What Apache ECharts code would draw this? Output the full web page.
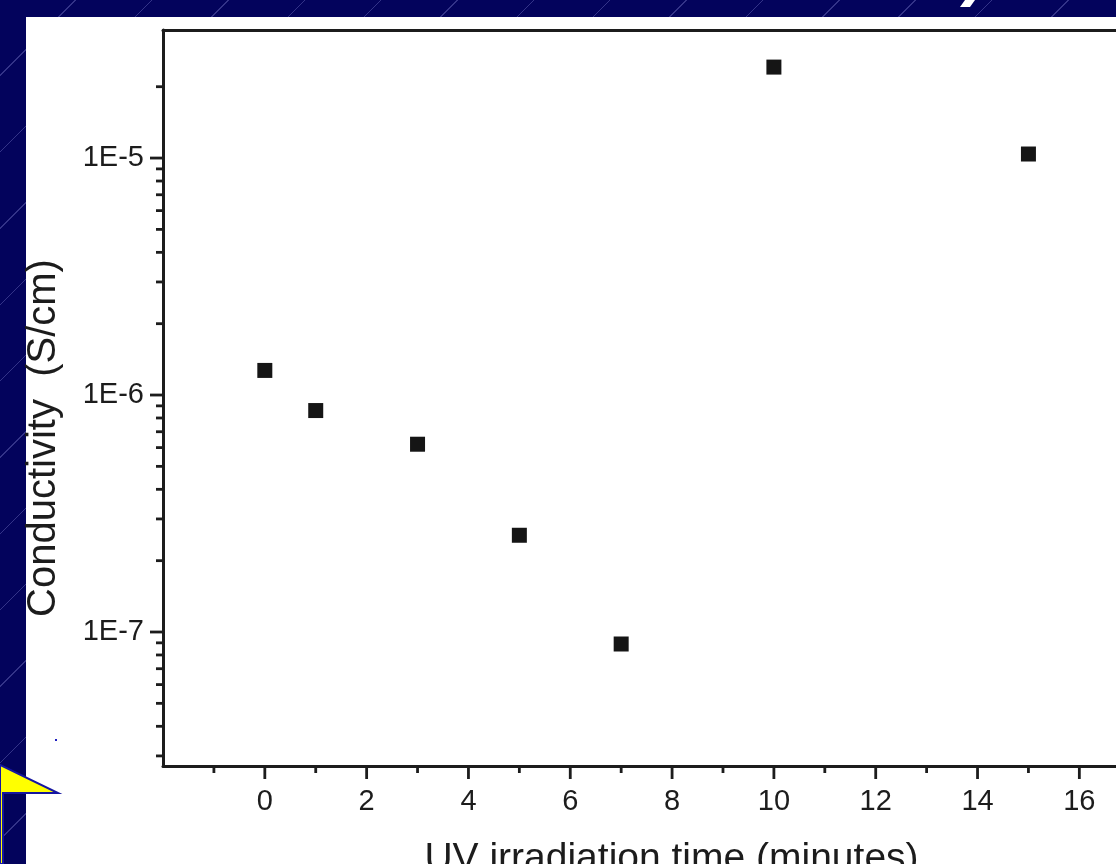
<!DOCTYPE html>
<html>
<head>
<meta charset="utf-8">
<title>Conductivity vs UV irradiation time</title>
<script src="https://cdn.jsdelivr.net/npm/echarts@6/dist/echarts.min.js"></script>
<style>
html, body { margin: 0; padding: 0; width: 1116px; height: 864px; overflow: hidden; }
#main {
    width: 1116px;
    height: 864px;
    background-color: #03035c;
    background-image: repeating-linear-gradient(135deg, transparent 0, transparent 53px, rgba(110,110,190,0.45) 53px, rgba(110,110,190,0.45) 54px);
}
</style>
</head>
<body>
<div id="main"></div>
<script>
// data
var uvTime = [0, 1, 3, 5, 7, 10, 15];
var conductivity = [1.27e-6, 8.6e-7, 6.2e-7, 2.56e-7, 8.9e-8, 2.42e-5, 1.04e-5];

// axis ranges and ticks
var X_MIN = -2, X_MAX = 16.72;
var Y_MIN = 2.72e-8, Y_MAX = 3.47e-5;
var xMajorTicks = [0, 2, 4, 6, 8, 10, 12, 14, 16];
var xMinorTicks = [-1, 1, 3, 5, 7, 9, 11, 13, 15];
var yMajorTicks = [1e-7, 1e-6, 1e-5];
var yMinorTicks = [3e-8, 4e-8, 5e-8, 6e-8, 7e-8, 8e-8, 9e-8,
                   2e-7, 3e-7, 4e-7, 5e-7, 6e-7, 7e-7, 8e-7, 9e-7,
                   2e-6, 3e-6, 4e-6, 5e-6, 6e-6, 7e-6, 8e-6, 9e-6,
                   2e-5];

var INK = '#1c1c1c';
var FONT = 'Liberation Sans, Arial, sans-serif';

function tickSeries(values, dir, len) {
    return {
        type: 'custom',
        silent: true,
        clip: false,
        z: 3,
        data: values.map(function (v) { return dir === 'y' ? [X_MIN, v] : [v, Y_MIN]; }),
        renderItem: function (params, api) {
            var p = api.coord([api.value(0), api.value(1)]);
            var shape = dir === 'y'
                ? { x1: p[0] - len, y1: p[1], x2: p[0], y2: p[1] }
                : { x1: p[0], y1: p[1], x2: p[0], y2: p[1] + len };
            return { type: 'line', shape: shape, style: { stroke: INK, lineWidth: 2.8 } };
        }
    };
}

function decadeLabel(v) {
    var e = Math.round(Math.log10(v));
    if (Math.abs(Math.log10(v) - e) > 1e-6) return '';
    return '1E' + e;
}

var chart = echarts.init(document.getElementById('main'), null, { renderer: 'canvas' });
var option = {
    backgroundColor: 'transparent',
    animation: false,
    textStyle: { fontFamily: FONT },
    graphic: [
        { type: 'rect', z: -10, shape: { x: 26, y: 17, width: 1090, height: 847 }, style: { fill: '#ffffff' } },
        { type: 'polygon', z: 100, shape: { points: [[0, 765], [58, 793], [3, 793], [3, 864], [0, 864]] },
          style: { fill: '#ffff00', stroke: '#1616a0', lineWidth: 2 } },
        { type: 'rect', z: 100, shape: { x: 55, y: 739, width: 2, height: 2 }, style: { fill: '#2020c0' } },
        { type: 'polygon', z: 100, shape: { points: [[965, 0], [975, 0], [970, 7], [960, 7]] }, style: { fill: '#ffffff' } }
    ],
    grid: { left: 163, top: 30, right: 0, bottom: 98, containLabel: false, outerBoundsMode: 'none' },
    xAxis: [{
        type: 'value',
        min: X_MIN,
        max: X_MAX,
        interval: 2,
        name: 'UV irradiation time (minutes)',
        nameLocation: 'middle',
        nameGap: 74,
        nameTextStyle: { fontSize: 39, color: INK, fontFamily: FONT, padding: [0, 0, 0, 64] },
        axisLine: { show: true, onZero: false, lineStyle: { color: INK, width: 3 } },
        axisTick: { show: false },
        splitLine: { show: false },
        axisLabel: {
            fontSize: 29, color: INK, margin: 21, fontFamily: FONT,
            showMinLabel: false, showMaxLabel: false,
            formatter: function (v) { return v >= 0 && v % 2 === 0 ? String(v) : ''; }
        }
    }, {
        type: 'value',
        position: 'top',
        min: X_MIN,
        max: X_MAX,
        axisLine: { show: true, lineStyle: { color: INK, width: 3 } },
        axisTick: { show: false },
        axisLabel: { show: false },
        splitLine: { show: false }
    }],
    yAxis: {
        type: 'log',
        logBase: 10,
        min: Y_MIN,
        max: Y_MAX,
        name: 'Conductivity  (S/cm)',
        nameLocation: 'middle',
        nameGap: 99,
        nameTextStyle: { fontSize: 40, color: INK, fontFamily: FONT, padding: [0, 80, 0, 0] },
        axisLine: { show: true, onZero: false, lineStyle: { color: INK, width: 3 } },
        axisTick: { show: false },
        splitLine: { show: false },
        axisLabel: {
            fontSize: 29, color: INK, margin: 19, fontFamily: FONT,
            showMinLabel: false, showMaxLabel: false,
            formatter: decadeLabel
        }
    },
    series: [
        tickSeries(xMajorTicks, 'x', 13),
        tickSeries(xMinorTicks, 'x', 7),
        tickSeries(yMajorTicks, 'y', 13),
        tickSeries(yMinorTicks, 'y', 7),
        {
            type: 'scatter',
            symbol: 'rect',
            symbolSize: 15,
            z: 5,
            itemStyle: { color: '#151515', opacity: 1 },
            data: uvTime.map(function (t, i) { return [t, conductivity[i]]; })
        }
    ]
};
chart.setOption(option);
</script>
</body>
</html>
